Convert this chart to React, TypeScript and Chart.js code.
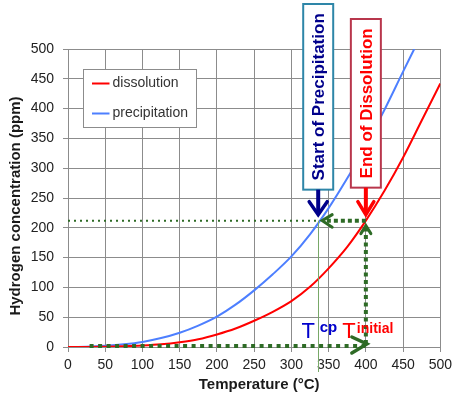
import React, { useEffect, useRef } from "react";
import { Chart, registerables } from "chart.js";

Chart.register(...registerables);

const FONT = "'Liberation Sans', Arial, Helvetica, sans-serif";

// ---- data ----
const temperatureTicks = [0, 50, 100, 150, 200, 250, 300, 350, 400, 450, 500];
const concentrationTicks = [0, 50, 100, 150, 200, 250, 300, 350, 400, 450, 500];

const dissolutionTemp = [0, 25, 50, 75, 100, 125, 150, 175, 200, 225, 250, 275, 300, 325, 350, 375, 400, 425, 450, 475, 500];
const dissolutionConc = [0, 0.2, 0.6, 1.3, 2.5, 4.5, 8, 13, 21, 31, 44, 59, 77, 101, 132, 168, 212, 262, 318, 380, 442];

const precipitationTemp = [0, 25, 50, 75, 100, 125, 150, 175, 200, 225, 250, 275, 300, 325, 350, 375, 400, 425, 450, 465];
const precipitationConc = [0, 0.5, 2, 4.5, 8.5, 15, 24, 36, 51, 71, 95, 122, 152, 189, 233, 283, 337, 398, 462, 500];

const seriesNames = ["dissolution", "precipitation"];
const seriesColors = ["#ff0000", "#4d7fff"];

const T_CP = 336;
const T_INITIAL = 400;
const H_INITIAL = 212;
const ARROW_START_T = 29;

const xTitle = "Temperature (°C)";
const yTitle = "Hydrogen concentration (ppm)";
const precipLabel = "Start of Precipitation";
const dissolLabel = "End of Dissolution";
const tcpMain = "T";
const tcpSub = "cp";
const tinitMain = "T";
const tinitSub = "initial";

const GREEN = "#2e6b26";

function dotted(ctx: CanvasRenderingContext2D, x1: number, y1: number, x2: number, y2: number, w: number, dash: number[], color: string) {
  ctx.save();
  ctx.strokeStyle = color;
  ctx.lineWidth = w;
  ctx.setLineDash(dash);
  ctx.lineCap = "butt";
  ctx.beginPath();
  ctx.moveTo(x1, y1);
  ctx.lineTo(x2, y2);
  ctx.stroke();
  ctx.restore();
}

function chevron(ctx: CanvasRenderingContext2D, ax: number, ay: number, tx: number, ty: number, bx: number, by: number, w: number, color: string) {
  ctx.save();
  ctx.strokeStyle = color;
  ctx.lineWidth = w;
  ctx.lineCap = "round";
  ctx.lineJoin = "miter";
  ctx.setLineDash([]);
  ctx.beginPath();
  ctx.moveTo(ax, ay);
  ctx.lineTo(tx, ty);
  ctx.lineTo(bx, by);
  ctx.stroke();
  ctx.restore();
}

const annotationPlugin = {
  id: "annotations",
  afterDatasetsDraw(chart: any) {
    const { ctx, chartArea } = chart;
    const xs = chart.scales.x;
    const ys = chart.scales.y;
    const px = (v: number) => xs.getPixelForValue(v);
    const py = (v: number) => ys.getPixelForValue(v);
    const xc = px(T_CP);
    const xi = px(T_INITIAL);
    const yh = py(H_INITIAL);
    const y0 = py(0);

    ctx.save();

    // legend
    const lx = chartArea.left + 15.5;
    const ly = chartArea.top + 20.5;
    ctx.fillStyle = "#ffffff";
    ctx.fillRect(lx, ly, 113, 58);
    ctx.strokeStyle = "#8c8c8c";
    ctx.lineWidth = 1;
    ctx.strokeRect(lx, ly, 113, 58);
    ctx.font = `14px ${FONT}`;
    ctx.textBaseline = "middle";
    ctx.textAlign = "left";
    seriesNames.forEach((name, i) => {
      const yy = ly + 14 + i * 30;
      ctx.strokeStyle = seriesColors[i];
      ctx.lineWidth = 2;
      ctx.beginPath();
      ctx.moveTo(lx + 8.5, yy);
      ctx.lineTo(lx + 26, yy);
      ctx.stroke();
      ctx.fillStyle = "#333333";
      ctx.fillText(name, lx + 29, yy);
    });

    // thin vertical green line at Tcp
    ctx.strokeStyle = "#78a868";
    ctx.lineWidth = 1;
    ctx.beginPath();
    ctx.moveTo(Math.round(xc) + 0.5, yh);
    ctx.lineTo(Math.round(xc) + 0.5, y0 + 25);
    ctx.stroke();

    // thin dotted horizontal line
    dotted(ctx, chartArea.left, yh, xc, yh, 2, [2, 4], GREEN);

    // thick dotted arrow from Tinitial to Tcp
    dotted(ctx, xi, yh, xc + 7, yh, 4, [4, 3], GREEN);
    chevron(ctx, xc + 14, yh - 6, xc + 4, yh, xc + 14, yh + 6.5, 3, GREEN);

    // vertical dotted arrow up
    dotted(ctx, xi, y0 - 3, xi, yh + 7, 4, [4, 3.5], GREEN);
    chevron(ctx, xi - 5, yh + 13, xi, yh + 5, xi + 5, yh + 13, 3, GREEN);

    // bottom dotted arrow right
    dotted(ctx, px(ARROW_START_T), y0 - 1, xi, y0 - 1, 4, [4, 4.5], GREEN);
    chevron(ctx, xi - 14, y0 - 10, xi + 1, y0 - 3, xi - 14, y0 + 6, 3.5, GREEN);

    // boxes
    const drawBox = (cx: number, top: number, bottom: number, border: string, textColor: string, text: string) => {
      const w = 30;
      ctx.fillStyle = "#ffffff";
      ctx.fillRect(cx - w / 2, top, w, bottom - top);
      ctx.strokeStyle = border;
      ctx.lineWidth = 2;
      ctx.strokeRect(cx - w / 2, top, w, bottom - top);
      ctx.save();
      ctx.translate(cx + 1, (top + bottom) / 2);
      ctx.rotate(-Math.PI / 2);
      ctx.font = `bold 17px ${FONT}`;
      ctx.fillStyle = textColor;
      ctx.textAlign = "center";
      ctx.textBaseline = "middle";
      ctx.fillText(text, 0, 0);
      ctx.restore();
    };
    drawBox(xc, 4, yh - 31, "#2e86a8", "#00008b", precipLabel);
    drawBox(xi, 19, yh - 33, "#b8364c", "#ff0000", dissolLabel);

    // arrows from boxes
    ctx.strokeStyle = "#00008b";
    ctx.lineWidth = 4;
    ctx.beginPath();
    ctx.moveTo(xc, yh - 31);
    ctx.lineTo(xc, yh - 7);
    ctx.stroke();
    chevron(ctx, xc - 9, yh - 19, xc, yh - 6, xc + 9, yh - 19, 3.5, "#00008b");

    ctx.strokeStyle = "#ff0000";
    ctx.lineWidth = 4;
    ctx.beginPath();
    ctx.moveTo(xi, yh - 33);
    ctx.lineTo(xi, yh - 7);
    ctx.stroke();
    chevron(ctx, xi - 8, yh - 19, xi, yh - 6, xi + 8, yh - 19, 3.5, "#ff0000");

    // T labels
    ctx.textBaseline = "alphabetic";
    ctx.textAlign = "center";
    ctx.font = `22px ${FONT}`;
    ctx.fillStyle = "#0000cc";
    ctx.fillText(tcpMain, xc - 10, y0 - 9);
    ctx.fillStyle = "#ff0000";
    ctx.fillText(tinitMain, xi - 17, y0 - 9);
    ctx.textAlign = "left";
    ctx.font = `bold 15px ${FONT}`;
    ctx.fillStyle = "#0000cc";
    ctx.fillText(tcpSub, xc + 1.5, y0 - 15);
    ctx.font = `bold 14px ${FONT}`;
    ctx.fillStyle = "#ff0000";
    ctx.fillText(tinitSub, xi - 9, y0 - 14);

    // axis titles
    ctx.fillStyle = "#1a1a1a";
    ctx.font = `bold 15px ${FONT}`;
    ctx.textAlign = "center";
    ctx.textBaseline = "middle";
    ctx.fillText(xTitle, (chartArea.left + chartArea.right) / 2 + 5, 385);
    ctx.save();
    ctx.translate(15.5, (chartArea.top + chartArea.bottom) / 2 + 8);
    ctx.rotate(-Math.PI / 2);
    ctx.fillText(yTitle, 0, 0);
    ctx.restore();

    ctx.restore();
  },
};

export default function App() {
  const ref = useRef<HTMLCanvasElement | null>(null);

  useEffect(() => {
    document.body.style.margin = "0";
    if (!ref.current) return;
    const gridColor = "#8c8c8c";
    const chart = new Chart(ref.current, {
      type: "line",
      data: {
        datasets: [
          {
            label: seriesNames[0],
            data: dissolutionTemp.map((t, i) => ({ x: t, y: dissolutionConc[i] })),
            borderColor: seriesColors[0],
            backgroundColor: seriesColors[0],
            borderWidth: 2,
            pointRadius: 0,
            cubicInterpolationMode: "monotone",
            fill: false,
          },
          {
            label: seriesNames[1],
            data: precipitationTemp.map((t, i) => ({ x: t, y: precipitationConc[i] })),
            borderColor: seriesColors[1],
            backgroundColor: seriesColors[1],
            borderWidth: 2,
            pointRadius: 0,
            cubicInterpolationMode: "monotone",
            fill: false,
          },
        ],
      },
      options: {
        animation: false,
        responsive: false,
        devicePixelRatio: 1,
        layout: { padding: { top: 49, right: 13, left: 0, bottom: 0 } },
        plugins: {
          legend: { display: false },
          tooltip: { enabled: false },
        },
        scales: {
          x: {
            type: "linear",
            min: 0,
            max: 500,
            afterBuildTicks: (s: any) => {
              s.ticks = temperatureTicks.map((v) => ({ value: v }));
            },
            afterFit: (s: any) => {
              s.height = 51;
            },
            ticks: {
              color: "#222222",
              font: { family: FONT, size: 14 },
              padding: 5,
              maxRotation: 0,
              autoSkip: false,
            },
            grid: { color: gridColor, lineWidth: 1, tickLength: 5 },
            border: { color: gridColor, width: 1 },
          },
          y: {
            type: "linear",
            min: 0,
            max: 500,
            afterBuildTicks: (s: any) => {
              s.ticks = concentrationTicks.map((v) => ({ value: v }));
            },
            afterFit: (s: any) => {
              s.width = 68;
            },
            ticks: {
              color: "#222222",
              font: { family: FONT, size: 14 },
              padding: 9,
              autoSkip: false,
            },
            grid: { color: gridColor, lineWidth: 1, tickLength: 5 },
            border: { color: gridColor, width: 1 },
          },
        },
      },
      plugins: [annotationPlugin],
    } as any);
    return () => chart.destroy();
  }, []);

  return (
    <div style={{ position: "absolute", left: 0, top: 0, width: 457, height: 398, background: "#ffffff" }}>
      <canvas ref={ref} width={457} height={398} style={{ display: "block", width: 457, height: 398 }} />
    </div>
  );
}
